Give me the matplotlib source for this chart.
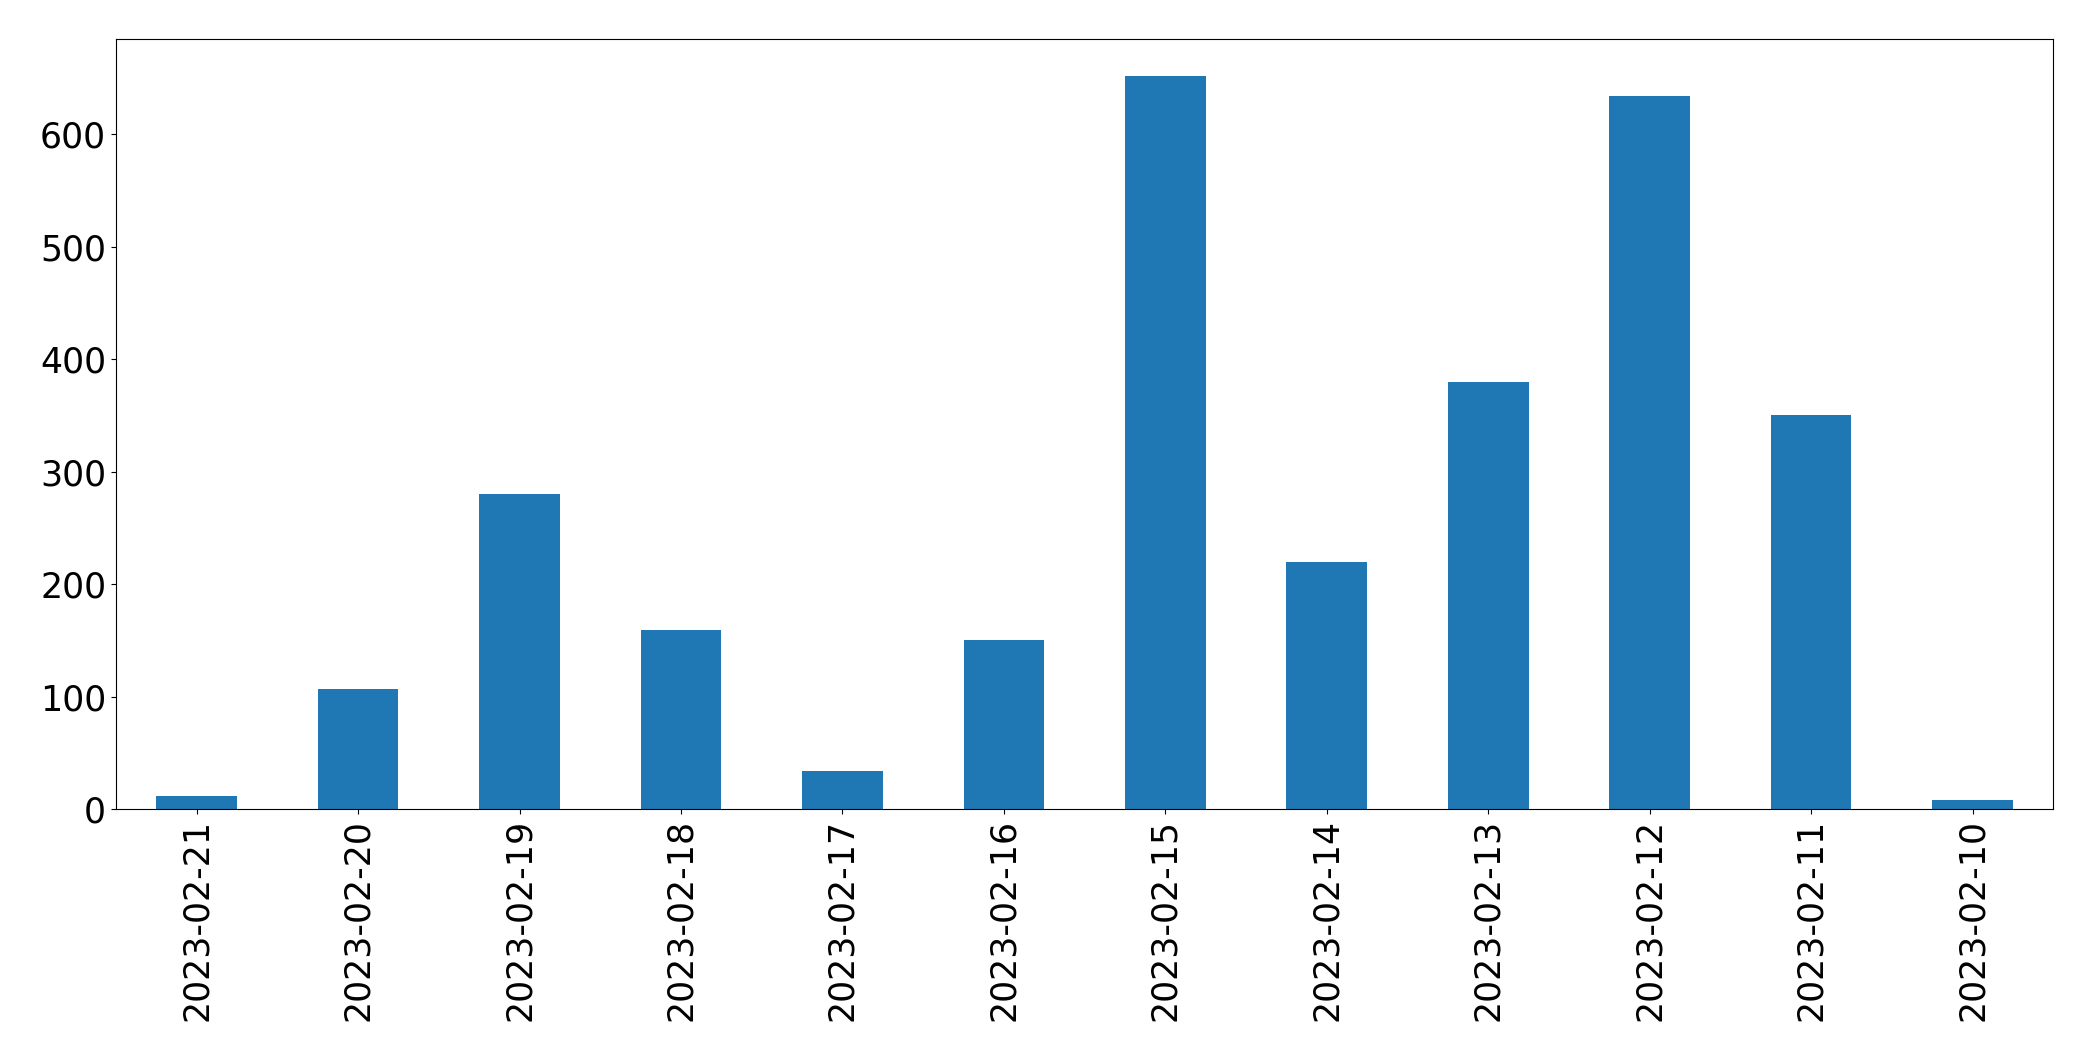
import matplotlib
matplotlib.use("Agg")
import matplotlib.pyplot as plt
import numpy as np

fechas = ['2023-02-21', '2023-02-20', '2023-02-19', '2023-02-18', '2023-02-17', '2023-02-16',
          '2023-02-15', '2023-02-14', '2023-02-13', '2023-02-12', '2023-02-11', '2023-02-10']
conteos = [12, 107, 280, 159, 34, 150, 652, 220, 380, 634, 350, 8]

fig = plt.figure(figsize=(20.93, 10.61), dpi=100)
ax = fig.add_axes([0.0554, 0.2375, 0.9256, 0.726])

x = np.arange(len(fechas))
ax.bar(x, conteos, width=0.5, color='#1f77b4')
ax.set_xlim(-0.5, len(fechas) - 0.5)
ax.set_ylim(0, 685)
ax.set_xticks(x)
ax.set_xticklabels(fechas, rotation=90)
ax.set_yticks([0, 100, 200, 300, 400, 500, 600])
ax.tick_params(labelsize=25)

fig.savefig('out.png', dpi=100)
